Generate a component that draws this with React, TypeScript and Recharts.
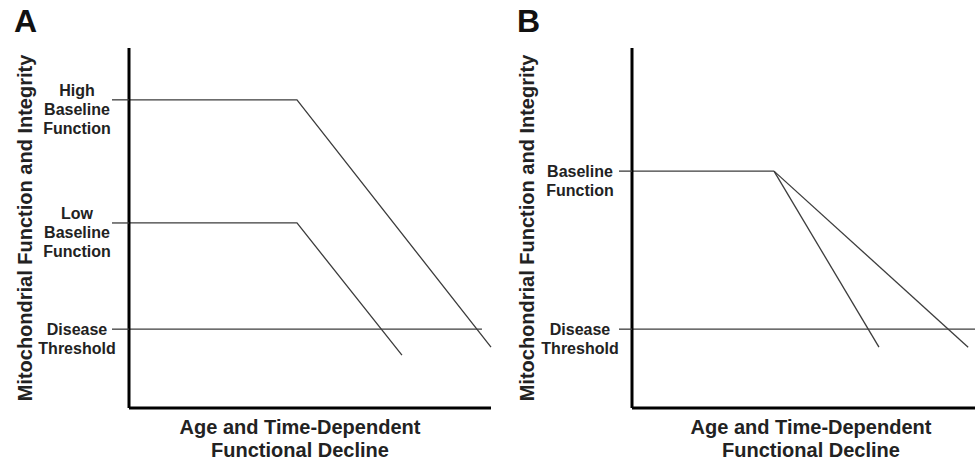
import { LineChart, Line, XAxis, YAxis, Label } from "recharts";

const FONT = "'Liberation Sans', Arial, Helvetica, sans-serif";

// Panel A: two baseline curves against a disease threshold
const highBaselineA = [
  { x: 0, y: 85.6 },
  { x: 46.4, y: 85.6 },
  { x: 100, y: 16.9 },
];
const lowBaselineA = [
  { x: 0, y: 51.4 },
  { x: 46.4, y: 51.4 },
  { x: 75.4, y: 14.7 },
];
const thresholdA = [
  { x: 0, y: 21.9 },
  { x: 97.5, y: 21.9 },
];
const ticksA = [85.6, 51.4, 21.9];
const tickLabelsA = [
  ["High", "Baseline", "Function"],
  ["Low", "Baseline", "Function"],
  ["Disease", "Threshold"],
];

// Panel B: one baseline, two decline rates
const baselineB = [
  { x: 0, y: 65.8 },
  { x: 41.4, y: 65.8 },
];
const fastDeclineB = [
  { x: 41.4, y: 65.8 },
  { x: 72.0, y: 16.9 },
];
const slowDeclineB = [
  { x: 41.4, y: 65.8 },
  { x: 98.0, y: 16.9 },
];
const thresholdB = [
  { x: 0, y: 21.9 },
  { x: 100, y: 21.9 },
];
const ticksB = [65.8, 21.9];
const tickLabelsB = [
  ["Baseline", "Function"],
  ["Disease", "Threshold"],
];

const yTitle = "Mitochondrial Function and Integrity";
const xTitle = ["Age and Time-Dependent", "Functional Decline"];

const LINE = "#3c3c3c";

function makeTick(ticks: number[], labels: string[][], tickSize: number) {
  return (props: any) => {
    const { x, y, payload } = props;
    const i = ticks.indexOf(payload.value);
    const lines = labels[i] || [];
    const cx = x + tickSize - 52;
    const first = -(lines.length - 2) * 10;
    return (
      <text x={cx} y={y} textAnchor="middle" fontFamily={FONT} fontWeight="bold" fontSize={16} fill="#222">
        {lines.map((l, k) => (
          <tspan key={k} x={cx} y={y + first + k * 19 + 6}>
            {l}
          </tspan>
        ))}
      </text>
    );
  };
}

function yTitleContent(offset: number) {
  return (props: any) => {
    const vb = props.viewBox;
    const cx = vb.x + offset;
    const cy = vb.y + vb.height / 2;
    return (
      <text
        x={cx}
        y={cy}
        transform={`rotate(-90, ${cx}, ${cy})`}
        textAnchor="middle"
        dominantBaseline="central"
        fontFamily={FONT}
        fontWeight="bold"
        fontSize={20}
        fill="#222"
      >
        {yTitle}
      </text>
    );
  };
}

function xTitleContent(cx: number) {
  return (props: any) => {
    const vb = props.viewBox;
    const top = vb.y;
    return (
      <text textAnchor="middle" fontFamily={FONT} fontWeight="bold" fontSize={20} fill="#222">
        <tspan x={cx} y={top + 26}>{xTitle[0]}</tspan>
        <tspan x={cx} y={top + 49}>{xTitle[1]}</tspan>
      </text>
    );
  };
}

function Panel({
  left,
  width,
  yAxisWidth,
  right,
  tickSize,
  ticks,
  labels,
  series,
  letter,
  letterX,
  yTitleOffset,
  xTitleX,
}: any) {
  return (
    <div style={{ position: "absolute", left, top: 0 }}>
      <svg width={width} height={463} style={{ position: "absolute", left: 0, top: 0 }}>
        <text x={letterX} y={32} fontFamily={FONT} fontWeight="bold" fontSize={32} fill="#111">
          {letter}
        </text>
      </svg>
      <LineChart width={width} height={463} margin={{ top: 48, right, bottom: 0, left: 0 }}>
        <XAxis
          type="number"
          dataKey="x"
          domain={[0, 100]}
          height={55}
          tick={false}
          tickLine={false}
          axisLine={{ stroke: "#000", strokeWidth: 3 }}
        >
          <Label content={xTitleContent(xTitleX)} />
        </XAxis>
        <YAxis
          type="number"
          dataKey="y"
          domain={[0, 100]}
          width={yAxisWidth}
          ticks={ticks}
          interval={0}
          tickSize={tickSize}
          tickMargin={0}
          tick={makeTick(ticks, labels, tickSize)}
          tickLine={{ stroke: LINE, strokeWidth: 1.3 }}
          axisLine={{ stroke: "#000", strokeWidth: 3 }}
        >
          <Label content={yTitleContent(yTitleOffset)} />
        </YAxis>
        {series.map((d: any, k: number) => (
          <Line
            key={k}
            data={d}
            dataKey="y"
            type="linear"
            stroke={LINE}
            strokeWidth={1.3}
            dot={false}
            activeDot={false}
            isAnimationActive={false}
          />
        ))}
      </LineChart>
    </div>
  );
}

export default function App() {
  return (
    <div style={{ position: "absolute", left: 0, top: 0, width: 975, height: 463, background: "#fff" }}>
      <Panel
        left={0}
        width={500}
        yAxisWidth={129}
        right={9}
        tickSize={17}
        ticks={ticksA}
        labels={tickLabelsA}
        series={[highBaselineA, lowBaselineA, thresholdA]}
        letter="A"
        letterX={14}
        yTitleOffset={25}
        xTitleX={300}
      />
      <Panel
        left={500}
        width={475}
        yAxisWidth={132}
        right={0}
        tickSize={13}
        ticks={ticksB}
        labels={tickLabelsB}
        series={[baselineB, fastDeclineB, slowDeclineB, thresholdB]}
        letter="B"
        letterX={17}
        yTitleOffset={27}
        xTitleX={311}
      />
    </div>
  );
}
